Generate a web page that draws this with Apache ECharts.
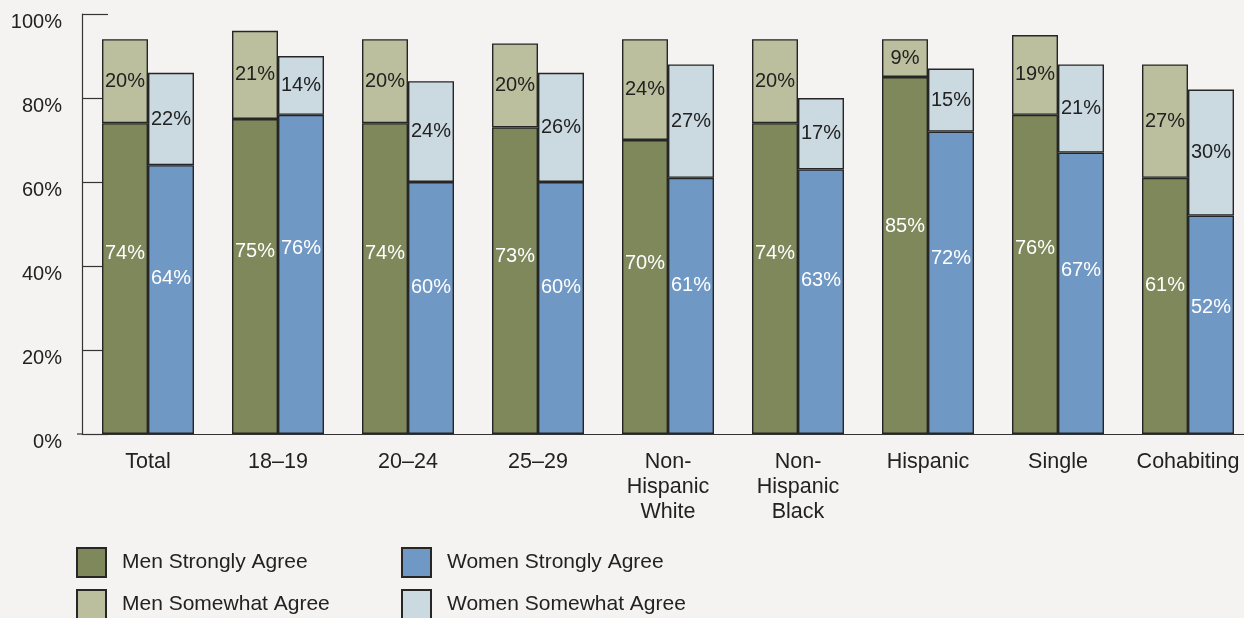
<!DOCTYPE html>
<html>
<head>
<meta charset="utf-8">
<script src="https://cdn.jsdelivr.net/npm/echarts@6/dist/echarts.min.js"></script>
<style>
html,body{margin:0;padding:0;background:#f4f3f1;overflow:hidden;width:1244px;height:618px;}
#c{width:1260px;height:618px;}
</style>
</head>
<body>
<div id="c"></div>
<script>
const categories = ['Total', '18–19', '20–24', '25–29', 'Non-\nHispanic\nWhite', 'Non-\nHispanic\nBlack', 'Hispanic', 'Single', 'Cohabiting'];
const menStrongly = [74, 75, 74, 73, 70, 74, 85, 76, 61];
const menSomewhat = [20, 21, 20, 20, 24, 20, 9, 19, 27];
const womenStrongly = [64, 76, 60, 60, 61, 63, 72, 67, 52];
const womenSomewhat = [22, 14, 24, 26, 27, 17, 15, 21, 30];
const yTicks = [0, 20, 40, 60, 80, 100];
const seriesNames = ['Men Strongly Agree', 'Men Somewhat Agree', 'Women Strongly Agree', 'Women Somewhat Agree'];

const FONT = '"Liberation Sans", Arial, Helvetica, sans-serif';
const BORDER = '#262626';

function barSeries(name, stack, data, color, labelColor, labelPos) {
  return {
    name: name,
    type: 'bar',
    stack: stack,
    data: data,
    barWidth: 46,
    barGap: '0%',
    itemStyle: { color: color, borderColor: BORDER, borderWidth: 1.4 },
    label: {
      show: true,
      position: labelPos,
      align: 'center',
      verticalAlign: 'middle',
      formatter: '{c}%',
      color: labelColor,
      fontFamily: FONT,
      fontSize: 20
    },
    emphasis: { disabled: true }
  };
}

function legendItem(name, left, top) {
  return {
    left: left,
    top: top,
    data: [name],
    orient: 'horizontal',
    itemWidth: 29,
    itemHeight: 29,
    selectedMode: false,
    icon: 'rect',
    padding: 0,
    textStyle: { fontFamily: FONT, fontSize: 21, color: '#222', padding: [0, 0, 0, 11] }
  };
}

const chart = echarts.init(document.getElementById('c'));
chart.setOption({
  backgroundColor: '#f4f3f1',
  animation: false,
  grid: { left: 83, width: 1170, top: 14, bottom: 184, containLabel: false },
  legend: [
    legendItem(seriesNames[0], 76, 547),
    legendItem(seriesNames[1], 76, 589),
    legendItem(seriesNames[2], 401, 547),
    legendItem(seriesNames[3], 401, 589)
  ],
  xAxis: {
    type: 'category',
    data: categories,
    axisLine: { lineStyle: { color: '#333', width: 1.2 } },
    axisTick: { show: false },
    axisLabel: { fontFamily: FONT, fontSize: 21.5, color: '#222', lineHeight: 25, margin: 16, interval: 0 }
  },
  yAxis: {
    type: 'value',
    min: 0,
    max: 100,
    interval: 20,
    position: 'left',
    offset: 1,
    splitLine: { show: false },
    axisLine: { show: true, lineStyle: { color: '#333', width: 1.2 } },
    axisTick: { show: true, inside: true, length: 26, lineStyle: { color: '#333', width: 1.2 } },
    axisLabel: {
      fontFamily: FONT, fontSize: 20, color: '#222', margin: 20,
      verticalAlign: 'top', lineHeight: 16,
      formatter: function (v) { return yTicks.indexOf(v) >= 0 ? v + '%' : ''; }
    }
  },
  series: [
    barSeries(seriesNames[0], 'men', menStrongly, '#7e885b', '#ffffff', ['50%', '42%']),
    barSeries(seriesNames[1], 'men', menSomewhat, '#bbbf9d', '#222222', 'inside'),
    barSeries(seriesNames[2], 'women', womenStrongly, '#7098c4', '#ffffff', ['50%', '42%']),
    barSeries(seriesNames[3], 'women', womenSomewhat, '#cbd9e1', '#222222', 'inside')
  ]
});
// short stub of the baseline to the left of the value axis
const p0 = chart.convertToPixel({ gridIndex: 0 }, [0, 0]);
const gridLeft = 83;
chart.setOption({
  graphic: [{
    type: 'line',
    shape: { x1: gridLeft - 6, y1: p0[1], x2: gridLeft, y2: p0[1] },
    style: { stroke: '#333', lineWidth: 1.2 },
    silent: true
  }]
});
</script>
</body>
</html>
